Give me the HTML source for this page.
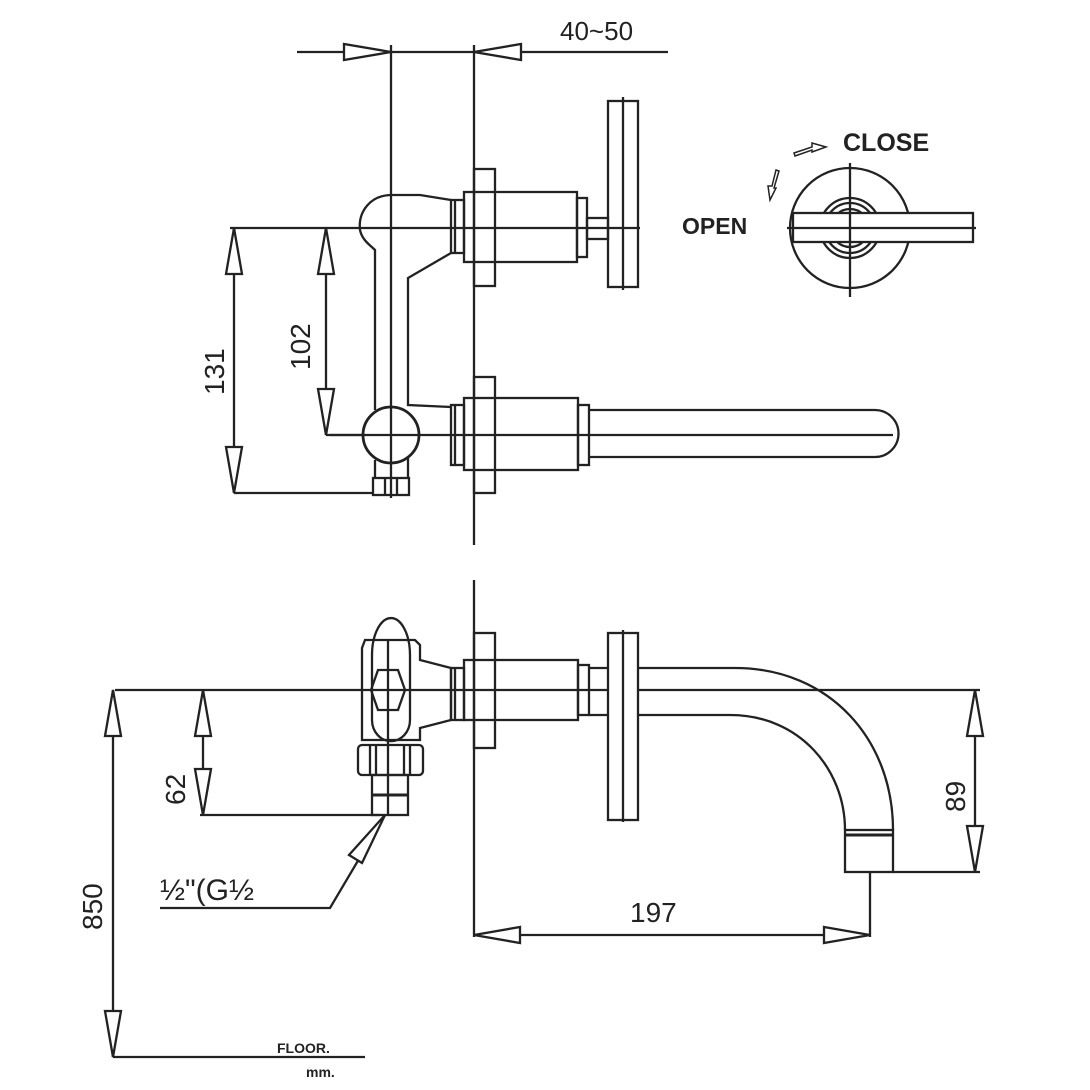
<!DOCTYPE html>
<html><head><meta charset="utf-8"><style>
html,body{margin:0;padding:0;background:#fff}
svg{display:block}
text{font-family:"Liberation Sans",sans-serif;fill:#222}
</style></head><body>
<svg width="1090" height="1090" viewBox="0 0 1090 1090" xmlns="http://www.w3.org/2000/svg">
<g fill="none" stroke="#222" stroke-width="2.3">
<line x1="297" y1="52" x2="668" y2="52"/>
<line x1="391" y1="45" x2="391" y2="498"/>
<line x1="474" y1="45" x2="474" y2="545"/>
<line x1="474" y1="580" x2="474" y2="937"/>
<polygon points="391,52 344,44 344,60" fill="#fff"/>
<polygon points="474,52 521,44 521,60" fill="#fff"/>

<rect x="474" y="169" width="21" height="117"/>
<rect x="464" y="192" width="113" height="70"/>
<rect x="577" y="198" width="10" height="59"/>
<rect x="587" y="218" width="21" height="21"/>
<rect x="608" y="101" width="30" height="186"/>
<line x1="623" y1="97" x2="623" y2="290"/>
<rect x="451" y="200" width="13" height="53"/>
<line x1="455" y1="200" x2="455" y2="253"/>
<line x1="230" y1="228" x2="640" y2="228"/>
<path d="M451,200 L420,195 L392,195 C370,195 358,212 360,230 C362,240 370,245 375,250 L375,410"/>
<path d="M451,253 L408,278 L408,405 L451,407"/>
<circle cx="391" cy="435" r="28" stroke-width="2.8"/>
<path d="M375,460 L375,478 M408,457 L408,478"/>
<rect x="373" y="478" width="36" height="17"/>
<line x1="385" y1="478" x2="385" y2="495"/><line x1="397" y1="478" x2="397" y2="495"/>
<rect x="474" y="377" width="21" height="116"/>
<rect x="464" y="398" width="114" height="72"/>
<rect x="578" y="405" width="11" height="60"/>
<rect x="451" y="405" width="13" height="60"/>
<line x1="455" y1="405" x2="455" y2="465"/>
<path d="M589,410 L875,410 A23,23 0 0 1 875,457 L589,457"/>
<line x1="330" y1="435" x2="893" y2="435"/>
<line x1="234" y1="228" x2="234" y2="493"/>
<line x1="234" y1="493" x2="373" y2="493"/>
<polygon points="234,228 226,274 242,274" fill="#fff"/>
<polygon points="234,493 226,447 242,447" fill="#fff"/>
<line x1="326" y1="228" x2="326" y2="435"/>
<line x1="326" y1="435" x2="362" y2="435"/>
<polygon points="326,228 318,274 334,274" fill="#fff"/>
<polygon points="326,435 318,389 334,389" fill="#fff"/>

<circle cx="850" cy="228" r="60"/>
<circle cx="850" cy="228" r="30"/>
<circle cx="850" cy="228" r="25"/>
<circle cx="850" cy="228" r="19"/>
<rect x="793" y="213" width="180" height="29" fill="#fff"/>
<line x1="787" y1="228" x2="976" y2="228"/>
<line x1="850" y1="163" x2="850" y2="297"/>
<path d="M794,153 L812,147 L812,143 L826,147 L812,152 L812,150 L795,156 Z" stroke-width="1.5"/>
<path d="M776,170 L772,186 L768,186 L770,200 L776,188 L774,188 L779,171 Z" stroke-width="1.5"/>

<line x1="115" y1="690" x2="980" y2="690"/>
<rect x="474" y="633" width="21" height="115"/>
<rect x="464" y="660" width="114" height="60"/>
<rect x="578" y="665" width="11" height="50"/>
<rect x="451" y="668" width="13" height="52"/>
<line x1="455" y1="668" x2="455" y2="720"/>
<path d="M589,668 L735,668 C830,668 893,740 893,830"/>
<path d="M589,715 L730,715 C800,715 845,770 845,830"/>
<rect x="845" y="830" width="48" height="42"/>
<line x1="845" y1="835" x2="893" y2="835" stroke-width="3"/>
<rect x="608" y="633" width="30" height="187" fill="#fff"/>
<line x1="623" y1="630" x2="623" y2="822"/>
<path d="M362,648 L362,740 L420,740 L420,728 L451,720 L451,668 L420,660 L420,645 L415,640 L365,640 Z"/>
<path d="M372,655 A18,35 0 0 1 410,655"/>
<path d="M372,655 L372,720 A18,20 0 0 0 410,720 L410,655"/>
<polygon points="378,670 398,670 405,690 398,710 378,710 371,690"/>
<line x1="388" y1="640" x2="388" y2="815"/>
<rect x="358" y="745" width="65" height="30" rx="4"/>
<line x1="370" y1="745" x2="370" y2="775"/><line x1="410" y1="745" x2="410" y2="775"/>
<line x1="376" y1="745" x2="376" y2="775"/><line x1="404" y1="745" x2="404" y2="775"/>
<rect x="372" y="775" width="36" height="40"/>
<line x1="372" y1="795" x2="408" y2="795" stroke-width="3"/>
<line x1="203" y1="690" x2="203" y2="815"/>
<line x1="200" y1="815" x2="380" y2="815"/>
<polygon points="203,690 195,736 211,736" fill="#fff"/>
<polygon points="203,815 195,769 211,769" fill="#fff"/>
<line x1="113" y1="690" x2="113" y2="1057"/>
<line x1="113" y1="1057" x2="365" y2="1057"/>
<polygon points="113,690 105,736 121,736" fill="#fff"/>
<polygon points="113,1057 105,1011 121,1011" fill="#fff"/>
<line x1="975" y1="690" x2="975" y2="872"/>
<line x1="893" y1="872" x2="980" y2="872"/>
<polygon points="975,690 967,736 983,736" fill="#fff"/>
<polygon points="975,872 967,826 983,826" fill="#fff"/>
<line x1="474" y1="935" x2="870" y2="935"/>
<line x1="870" y1="872" x2="870" y2="937"/>
<polygon points="474,935 520,927 520,943" fill="#fff"/>
<polygon points="870,935 824,927 824,943" fill="#fff"/>
<path d="M160,908 L330,908 L385,815"/>
<polygon points="385,815 349,855 362,863" fill="#fff"/>
</g>
<text x="560" y="40" font-size="26">40~50</text>
<text x="843" y="151" font-size="25" font-weight="bold">CLOSE</text>
<text x="682" y="234" font-size="23" font-weight="bold">OPEN</text>
<text transform="translate(224,395) rotate(-90)" font-size="28">131</text>
<text transform="translate(310,370) rotate(-90)" font-size="28">102</text>
<text transform="translate(185,805) rotate(-90)" font-size="28">62</text>
<text transform="translate(102,930) rotate(-90)" font-size="28">850</text>
<text transform="translate(965,812) rotate(-90)" font-size="28">89</text>
<text x="630" y="922" font-size="28">197</text>
<text x="160" y="900" font-size="30">½"(G½</text>
<text x="277" y="1053" font-size="14" font-weight="bold">FLOOR.</text>
<text x="306" y="1077" font-size="14" font-weight="bold">mm.</text>
</svg>
</body></html>
